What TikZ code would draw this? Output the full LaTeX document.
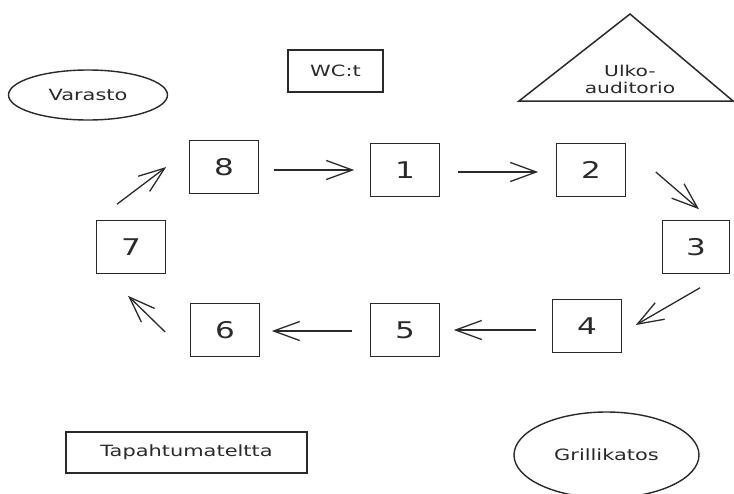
\documentclass[tikz,border=0pt]{standalone}
\usepackage{fontspec}
\setmainfont[FakeStretch=1.35]{DejaVu Sans}
\usetikzlibrary{arrows.meta,shapes.geometric}
\definecolor{ink}{HTML}{2A2A2A}
\tikzset{
  numbox/.style={draw=ink,line width=1.6pt,minimum width=69pt,minimum height=53pt,inner sep=0pt,text=ink,font=\fontsize{23}{26}\selectfont},
  lblbox/.style={draw=ink,line width=1.6pt,inner sep=0pt,text=ink,font=\fontsize{15.5}{18}\selectfont},
  lbloval/.style={draw=ink,line width=1.4pt,ellipse,inner sep=0pt,text=ink,font=\fontsize{15.5}{18}\selectfont},
  lbltext/.style={text=ink,inner sep=0pt,font=\fontsize{15}{18}\selectfont},
  flow/.style={draw=ink,line width=1.3pt,-{Straight Barb[length=26pt,width=19pt,line width=1.3pt]}}
}
\begin{document}
\begin{tikzpicture}[x=1pt,y=-1pt]
\useasboundingbox (0,0) rectangle (734,493);
% nodes
\node[lbloval,minimum width=159pt,minimum height=50pt] (varasto) at (88,95) {Varasto};
\node[lblbox,minimum width=95pt,minimum height=42pt] (wc) at (335.5,71) {WC:t};
\draw[ink,line width=1.5pt,line join=miter] (630,14) -- (733,101) -- (519,101) -- cycle;
\node[lbltext,align=center] (ulko) at (630,79) {Ulko-\\[-1pt]auditorio};
\node[numbox] (n8) at (224,167) {8};
\node[numbox] (n1) at (405,170) {1};
\node[numbox] (n2) at (591,170) {2};
\node[numbox,minimum width=67pt] (n3) at (696,247) {3};
\node[numbox] (n4) at (587,326) {4};
\node[numbox] (n5) at (405,330) {5};
\node[numbox] (n6) at (225,330) {6};
\node[numbox] (n7) at (131,247) {7};
\node[lblbox,minimum width=241pt,minimum height=41pt] (teltta) at (186.5,452.5) {Tapahtumateltta};
\node[lbloval,minimum width=185pt,minimum height=86pt] (grilli) at (606.5,455) {Grillikatos};
% connectors
\draw[flow] ([shift={(14.5,3)}]n8.east) -- ([shift={(-15.5,0)}]n1.west);
\draw[flow] ([shift={(17.5,2)}]n1.east) -- ([shift={(-17.5,2)}]n2.west);
\draw[flow] ([shift={(29.5,2)}]n2.east) -- ([shift={(3,-10.5)}]n3.north);
\draw[flow] ([shift={(4,13.5)}]n3.south) -- ([shift={(13.5,-1)}]n4.east);
\draw[flow] ([shift={(-15.5,4)}]n4.west) -- ([shift={(13.5,0)}]n5.east);
\draw[flow] ([shift={(-17.5,1)}]n5.west) -- ([shift={(11.5,1)}]n6.east);
\draw[flow] ([shift={(-24.5,2)}]n6.west) -- ([shift={(-3,21.5)}]n7.south);
\draw[flow] ([shift={(-14,-15.5)}]n7.north) -- ([shift={(-22.5,0)}]n8.west);
\end{tikzpicture}
\end{document}
